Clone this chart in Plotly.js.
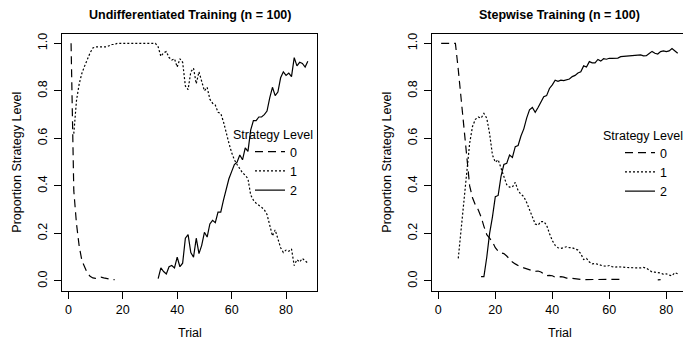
<!DOCTYPE html>
<html>
<head>
<meta charset="utf-8">
<script src="https://cdn.plot.ly/plotly-3.0.1.min.js"></script>
<style>html,body{margin:0;padding:0;background:#fff;}#chart{width:683px;height:341px;}</style>
</head>
<body>
<div id="chart"></div>
<script>
// Trial numbers
const trialsA = [1,2,3,4,5,6,7,8,9,10,11,12,13,14,15,16,17,18,19,20,21,22,23,24,25,26,27,28,29,30,
  31,32,33,34,35,36,37,38,39,40,41,42,43,44,45,46,47,48,49,50,51,52,53,54,55,56,57,58,59,60,
  61,62,63,64,65,66,67,68,69,70,71,72,73,74,75,76,77,78,79,80,81,82,83,84,85,86,87,88];
const trialsB = [1,2,3,4,5,6,7,8,9,10,11,12,13,14,15,16,17,18,19,20,21,22,23,24,25,26,27,28,29,30,
  31,32,33,34,35,36,37,38,39,40,41,42,43,44,45,46,47,48,49,50,51,52,53,54,55,56,57,58,59,60,
  61,62,63,64,65,66,67,68,69,70,71,72,73,74,75,76,77,78,79,80,81,82,83,84];

// Undifferentiated Training: level 0 (trials 1-17)
const undiff0 = [1.0,0.38,0.24,0.145,0.085,0.055,0.032,0.02,0.013,0.011,0.014,0.016,0.013,0.01,0.007,0.006,0.006];
// level 1 (trials 2-88)
const undiff1 = [0.62,0.76,0.83,0.875,0.905,0.935,0.96,0.98,0.985,0.985,0.985,0.985,0.985,0.99,0.995,0.995,
  1.0,1.0,1.0,1.0,1.0,1.0,1.0,1.0,1.0,1.0,1.0,1.0,1.0,1.0,1.0,
  0.985,0.945,0.96,0.965,0.94,0.93,0.935,0.90,0.935,0.92,
  0.82,0.805,0.88,0.895,0.83,0.88,0.84,0.80,0.815,0.765,
  0.748,0.74,0.71,0.705,0.67,0.62,0.58,0.54,0.51,0.49,
  0.47,0.455,0.445,0.43,0.362,0.34,0.327,0.32,0.31,0.30,
  0.28,0.235,0.19,0.215,0.18,0.14,0.12,0.13,0.125,0.135,
  0.065,0.09,0.08,0.095,0.085,0.075];
// level 2 (trials 33-88)
const undiff2 = [0.01,0.055,0.04,0.03,0.06,0.065,0.055,0.10,0.06,0.075,
  0.18,0.195,0.12,0.10,0.18,0.115,0.15,0.205,0.185,0.24,
  0.255,0.245,0.29,0.29,0.34,0.39,0.43,0.46,0.49,0.50,
  0.53,0.51,0.56,0.545,0.635,0.675,0.675,0.69,0.69,0.70,
  0.715,0.77,0.815,0.78,0.795,0.855,0.88,0.865,0.875,0.86,
  0.94,0.905,0.92,0.915,0.90,0.925];

// Stepwise Training: level 0 (trials 1-78, gaps = missing)
const step0 = [1.0,1.0,1.0,1.0,1.0,1.0,0.89,0.76,0.65,0.53,
  0.40,0.35,0.32,0.30,0.27,0.23,0.195,0.18,0.165,0.14,
  0.125,0.118,0.115,0.105,0.09,0.08,0.072,0.065,0.058,0.055,
  0.052,0.048,0.045,0.04,0.042,0.038,0.03,0.022,0.024,0.022,
  0.016,0.018,0.018,0.016,0.012,0.012,0.01,0.008,0.007,0.007,
  0.006,0.006,0.005,0.004,0.004,0.004,0.004,0.006,0.007,0.007,
  0.007,0.007,0.007,0.007,0.007,
  null,null,null,null,null,null,null,null,null,null,null,
  0.005,0.006];
// level 1 (trials 7-84)
const step1 = [0.095,0.22,0.34,0.47,0.58,0.65,0.68,0.69,0.685,0.705,0.685,0.62,0.53,0.50,
  0.51,0.475,0.44,0.405,0.395,0.395,0.415,0.38,0.365,0.355,
  0.33,0.30,0.265,0.24,0.235,0.25,0.25,0.235,0.20,0.17,
  0.15,0.14,0.137,0.142,0.144,0.14,0.14,0.135,0.13,0.115,
  0.09,0.095,0.08,0.072,0.074,0.07,0.065,0.063,0.062,0.065,
  0.06,0.058,0.06,0.058,0.057,0.057,0.056,0.056,0.054,0.053,
  0.055,0.057,0.054,0.046,0.038,0.037,0.036,0.034,0.028,0.03,
  0.025,0.022,0.035,0.03];
// level 2 (trials 15-84)
const step2 = [0.018,0.018,0.10,0.20,0.27,0.355,
  0.36,0.44,0.49,0.495,0.53,0.52,0.565,0.57,0.61,0.64,
  0.685,0.72,0.73,0.71,0.73,0.75,0.775,0.78,0.81,0.825,
  0.845,0.84,0.845,0.843,0.846,0.85,0.86,0.865,0.875,0.88,
  0.905,0.90,0.923,0.918,0.918,0.932,0.925,0.935,0.933,0.937,
  0.937,0.936,0.938,0.944,0.945,0.947,0.947,0.948,0.947,0.95,
  0.951,0.947,0.948,0.957,0.966,0.958,0.955,0.965,0.968,0.965,
  0.968,0.978,0.968,0.958];

const levelNames = ['0','1','2'];
const yTickVals = [0,0.2,0.4,0.6,0.8,1.0];
const yTickText = ['0.0','0.2','0.4','0.6','0.8','1.0'];
const xTickVals = [0,20,40,60,80];

const FONT = 'Liberation Sans, Arial, Helvetica, sans-serif';
const DASHES = ['8px,5px','2px,2px','solid'];

function tr(x, y, lvl, xa, ya, leg) {
  return {
    x: x, y: y, type: 'scatter', mode: 'lines', name: levelNames[lvl],
    xaxis: xa, yaxis: ya, legend: leg, connectgaps: false,
    showlegend: true,
    line: {color: '#000', width: 1.2, dash: DASHES[lvl]},
    hoverinfo: 'skip'
  };
}

const data = [
  tr(trialsA.slice(0, undiff0.length), undiff0, 0, 'x', 'y', 'legend'),
  tr(trialsA.slice(1), undiff1, 1, 'x', 'y', 'legend'),
  tr(trialsA.slice(32), undiff2, 2, 'x', 'y', 'legend'),
  tr(trialsB.slice(0, step0.length), step0, 0, 'x2', 'y2', 'legend2'),
  tr(trialsB.slice(6), step1, 1, 'x2', 'y2', 'legend2'),
  tr(trialsB.slice(14), step2, 2, 'x2', 'y2', 'legend2')
];

const W = 683, H = 341;
function axX(domain, range) {
  return {domain: domain, range: range, tickvals: xTickVals, ticks: 'outside', ticklen: 7,
    tickcolor: '#000', tickwidth: 1, showline: true, linecolor: '#000', linewidth: 1, mirror: true,
    showgrid: false, zeroline: false, tickfont: {family: FONT, size: 12.5, color: '#000'}, fixedrange: true};
}
function axY(anchor, mirror) {
  return {domain: [1 - 290.5/H, 1 - 33.8/H], range: [-0.04, 1.04], tickvals: yTickVals, ticktext: yTickText,
    tickangle: -90, ticks: 'outside', ticklen: 7, tickcolor: '#000', tickwidth: 1, ticklabelstandoff: 2,
    showline: true, linecolor: '#000', linewidth: 1, mirror: mirror, anchor: anchor,
    showgrid: false, zeroline: false, tickfont: {family: FONT, size: 12.5, color: '#000'}, fixedrange: true};
}
function ann(text, px, py, opts) {
  return Object.assign({text: text, x: px / W, y: 1 - py / H, xref: 'paper', yref: 'paper',
    xanchor: 'center', yanchor: 'middle', showarrow: false,
    font: {family: FONT, size: 12.5, color: '#000'}}, opts || {});
}

const layout = {
  width: W, height: H, autosize: false,
  margin: {l: 0, r: 0, t: 0, b: 0, pad: 0, autoexpand: false},
  paper_bgcolor: '#fff', plot_bgcolor: '#fff',
  font: {family: FONT, size: 12.5, color: '#000'},
  xaxis: axX([61.6/W, 317.3/W], [-2.48, 91.48]),
  yaxis: axY('x', true),
  xaxis2: Object.assign(axX([431.7/W, 1], [-2.32, 85.86]), {anchor: 'y2'}),
  yaxis2: axY('x2', false),
  legend: {x: 250/W, y: 1 - 137/H, xanchor: 'left', yanchor: 'top', bgcolor: 'rgba(0,0,0,0)',
    borderwidth: 0, font: {family: FONT, size: 12.5, color: '#000'}, traceorder: 'normal'},
  legend2: {x: 620/W, y: 1 - 138/H, xanchor: 'left', yanchor: 'top', bgcolor: 'rgba(0,0,0,0)',
    borderwidth: 0, font: {family: FONT, size: 12.5, color: '#000'}, traceorder: 'normal'},
  annotations: [
    ann('<b>Undifferentiated Training (n = 100)</b>', 189.5, 15),
    ann('<b>Stepwise Training (n = 100)</b>', 559.5, 15),
    ann('Trial', 189.5, 333),
    ann('Trial', 559.5, 333),
    ann('Proportion Strategy Level', 16.7, 162, {textangle: -90}),
    ann('Proportion Strategy Level', 386.7, 162, {textangle: -90}),
    ann('Strategy Level', 273, 135),
    ann('Strategy Level', 643.3, 136)
  ]
};

Plotly.newPlot('chart', data, layout, {staticPlot: true, displayModeBar: false});
</script>
</body>
</html>
